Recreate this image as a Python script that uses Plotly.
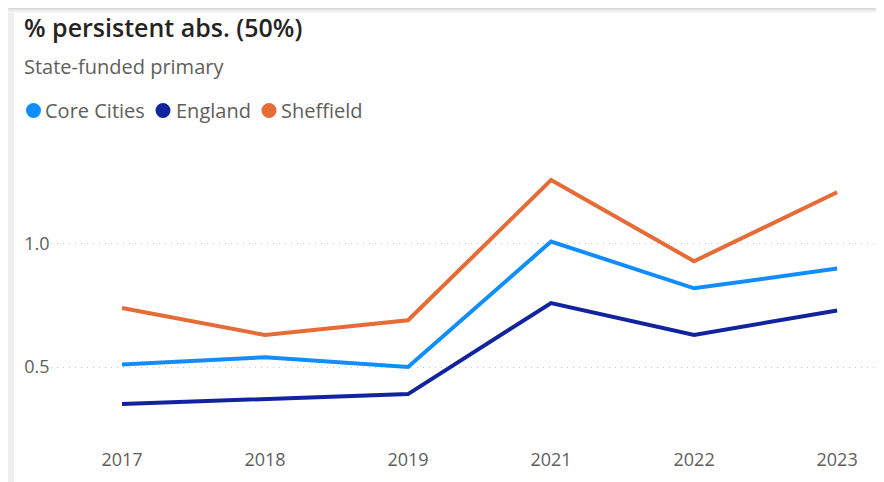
import plotly.graph_objects as go

years = ["2017", "2018", "2019", "2021", "2022", "2023"]
core_cities = [0.51, 0.54, 0.50, 1.01, 0.82, 0.90]
england = [0.35, 0.37, 0.39, 0.76, 0.63, 0.73]
sheffield = [0.74, 0.63, 0.69, 1.26, 0.93, 1.21]

series_names = ["Core Cities", "England", "Sheffield"]
series_values = [core_cities, england, sheffield]
series_colors = ["#118DFF", "#12239E", "#E66C37"]

W, H = 884, 482
def px(x):
    return x / W
def py(y):
    return 1 - y / H

fig = go.Figure()
for name, vals, col in zip(series_names, series_values, series_colors):
    fig.add_trace(go.Scatter(
        x=years, y=vals, name=name, mode="lines", showlegend=False,
        line=dict(color=col, width=4),
    ))

shapes = [dict(type="rect", xref="paper", yref="paper", layer="below",
               x0=0, x1=px(6), y0=0, y1=1, fillcolor="#efefef", line_width=0)]
greys = ["#d8d8d8", "#e2e2e2", "#eaeaea", "#f2f2f2", "#f8f8f8"]
for i, g in enumerate(greys):
    shapes.append(dict(type="rect", xref="paper", yref="paper", layer="below",
                       x0=0, x1=1, y0=py(i + 1), y1=py(i),
                       fillcolor=g, line_width=0))

annotations = [
    dict(text="% persistent abs. (50%)", xref="paper", yref="paper",
         x=px(14), y=py(19), xanchor="left", yanchor="middle",
         showarrow=False,
         font=dict(size=25, color="#252423", weight=600,
                   family="Open Sans, Noto Sans, sans-serif")),
    dict(text="State-funded primary", xref="paper", yref="paper",
         x=px(14), y=py(58), xanchor="left", yanchor="middle",
         showarrow=False, font=dict(size=20, color="#605E5C")),
]

# custom legend (circle + label)
legend_circle_x = [25.5, 155, 261]
legend_text_x = [35, 166, 271]
legend_y = 102.5
r = 7.5
for name, col, cx, tx in zip(series_names, series_colors, legend_circle_x, legend_text_x):
    shapes.append(dict(type="circle", xref="paper", yref="paper",
                       x0=px(cx - r), x1=px(cx + r),
                       y0=py(legend_y + r), y1=py(legend_y - r),
                       fillcolor=col, line_width=0))
    annotations.append(dict(text=name, xref="paper", yref="paper",
                            x=px(tx), y=py(legend_y), xanchor="left",
                            yanchor="middle", showarrow=False,
                            font=dict(size=20, color="#605E5C")))

fig.update_layout(
    width=W, height=H,
    margin=dict(l=0, r=0, t=0, b=0, autoexpand=False),
    paper_bgcolor="white", plot_bgcolor="white",
    font=dict(family="Open Sans, Noto Sans, sans-serif", color="#605E5C"),
    showlegend=False,
    shapes=shapes,
    annotations=annotations,
    xaxis=dict(type="category", range=[-0.5, 5.3], domain=[px(42.5), px(872)],
               showgrid=False, showline=False, zeroline=False,
               ticks="outside", ticklen=13, tickcolor="rgba(0,0,0,0)",
               automargin=False, tickfont=dict(size=18, color="#605E5C")),
    yaxis=dict(range=[0.244, 1.382], domain=[py(422), py(142)],
               tickvals=[0.5, 1.0], ticktext=["0.5", "1.0"], showgrid=True,
               gridcolor="#c4c4c4", griddash="1px,5px", gridwidth=1,
               zeroline=False, showline=False, ticks="", automargin=False,
               tickfont=dict(size=18, color="#605E5C")),
)

fig.write_html("out.html")
